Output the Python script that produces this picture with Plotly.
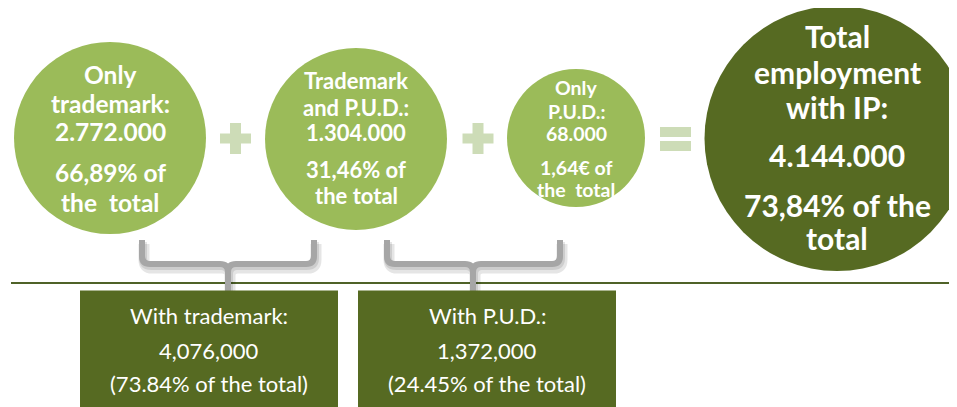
import plotly.graph_objects as go

# ---- data ----
circle_titles = [["Only", "trademark:"], ["Trademark", "and P.U.D.:"], ["Only", "P.U.D.:"],
                 ["Total", "employment", "with IP:"]]
circle_values = ["2.772.000", "1.304.000", "68.000", "4.144.000"]
circle_shares = [["66,89% of", "the\u00a0 total"], ["31,46% of", "the total"],
                 ["1,64€ of", "the\u00a0 total"], ["73,84% of the", "total"]]
box_titles = ["With trademark:", "With P.U.D.:"]
box_values = ["4,076,000", "1,372,000"]
box_shares = ["(73.84% of the total)", "(24.45% of the total)"]

# ---- layout constants ----
W, H = 957, 407
OFF = 8  # page body margin compensation
LIGHT = "#9bbb59"
DARK = "#566a22"
PALE = "#cddcb7"
GRAY = "#a6a6a6"
FONT = "Lato"

circles = [  # cx, cy, r, color, font size, line y positions
    (110, 138, 96, LIGHT, 24.5, [74, 103, 131, 172, 202]),
    (356, 139, 91, LIGHT, 22, [80, 107, 132, 169, 195]),
    (576, 138, 69, LIGHT, 19.5, [87, 111, 133, 167, 189]),
    (837, 138.5, 132.5, DARK, 30, [36, 72, 107, 155, 205, 238]),
]
boxes = [(80, 338, 228), (358, 616, 473)]  # x0, x1, stem x
brackets = [(142, 314, 228), (387, 560, 473)]
box_line_y = [315, 350, 383]

shapes = []
annotations = []

# horizontal rule
shapes.append(dict(type="line", x0=11, x1=W + 20, y0=283, y1=283,
                   line=dict(color="#4f6228", width=2), layer="above"))

# circles + texts
for i, (cx, cy, r, col, fs, ys) in enumerate(circles):
    shapes.append(dict(type="circle", x0=cx - r, x1=cx + r, y0=cy - r, y1=cy + r,
                       fillcolor=col, line=dict(width=0), layer="above"))
    lines = circle_titles[i] + [circle_values[i]] + circle_shares[i]
    for txt, y in zip(lines, ys):
        annotations.append(dict(x=cx, y=y, text=f"<b>{txt}</b>", showarrow=False,
                                xanchor="center", yanchor="middle",
                                font=dict(family=FONT, size=fs, color="white")))


# plus signs and equals sign
def rect(x0, x1, y0, y1):
    shapes.append(dict(type="rect", x0=x0, x1=x1, y0=y0, y1=y1, fillcolor=PALE,
                       line=dict(width=0), layer="above"))


for px in (235.5, 478):
    rect(px - 15.5, px + 15.5, 133.5, 143.5)
    rect(px - 5.5, px + 5.5, 123, 154)
rect(660, 691, 127, 137)
rect(660, 691, 141, 151)


# brackets
def bracket_path(xl, xr, xm, ytop=240, yh=264, ybot=291, r=8, dx=0, dy=0):
    def p(x, y):
        return f"{x + dx},{y + dy}"
    return (f"M{p(xl, ytop)} L{p(xl, yh - r)} Q{p(xl, yh)} {p(xl + r, yh)} "
            f"L{p(xm - r, yh)} Q{p(xm, yh)} {p(xm, yh + r)} L{p(xm, ybot)} "
            f"M{p(xm, yh + r)} Q{p(xm, yh)} {p(xm + r, yh)} "
            f"L{p(xr - r, yh)} Q{p(xr, yh)} {p(xr, yh - r)} L{p(xr, ytop)}")


for xl, xr, xm in brackets:
    shapes.append(dict(type="path", path=bracket_path(xl, xr, xm, dx=2, dy=4),
                       line=dict(color="rgba(0,0,0,0.10)", width=11), layer="above"))
    shapes.append(dict(type="path", path=bracket_path(xl, xr, xm, dx=1, dy=2),
                       line=dict(color="rgba(0,0,0,0.10)", width=8), layer="above"))
    shapes.append(dict(type="path", path=bracket_path(xl, xr, xm),
                       line=dict(color=GRAY, width=6), layer="above"))

# boxes
for i, (x0, x1, sx) in enumerate(boxes):
    shapes.append(dict(type="rect", x0=x0, x1=x1, y0=290.5, y1=H + 20, fillcolor=DARK,
                       line=dict(width=0), layer="above"))
    cx = (x0 + x1) / 2
    for txt, y in zip([box_titles[i], box_values[i], box_shares[i]], box_line_y):
        annotations.append(dict(x=cx, y=y, text=txt, showarrow=False,
                                xanchor="center", yanchor="middle",
                                font=dict(family=FONT, size=22, color="white")))

fig = go.Figure()
fig.update_layout(
    width=W, height=H, margin=dict(l=0, r=0, t=0, b=0),
    paper_bgcolor="white", plot_bgcolor="white",
    xaxis=dict(range=[OFF, W + OFF], visible=False, fixedrange=True),
    yaxis=dict(range=[H + OFF, OFF], visible=False, fixedrange=True),
    shapes=shapes, annotations=annotations, showlegend=False,
)
fig.write_html("out.html", config={"displayModeBar": False})
